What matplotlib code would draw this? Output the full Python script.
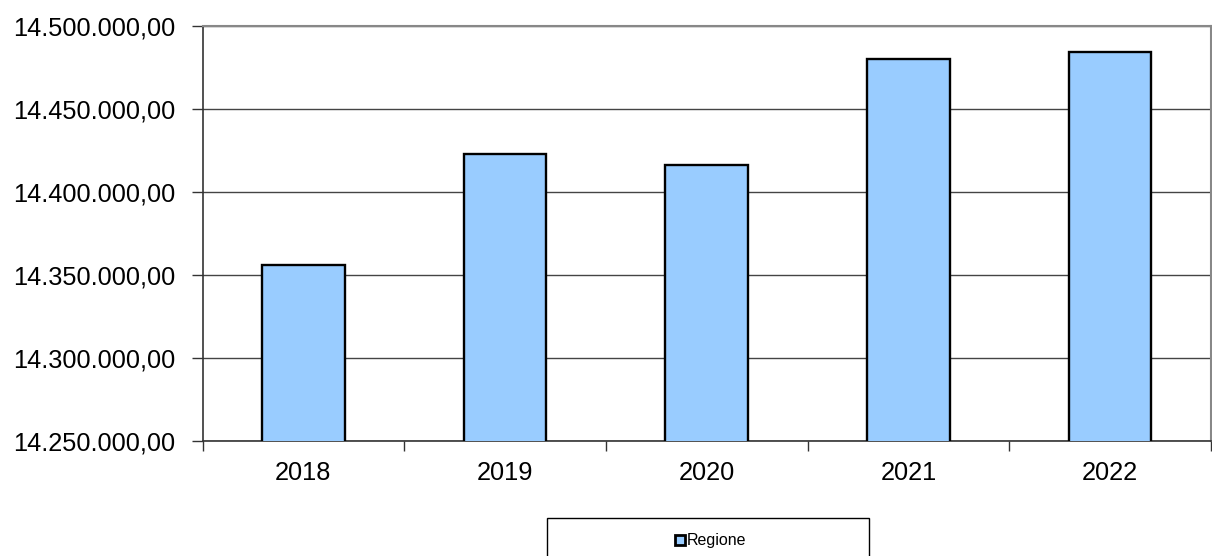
import matplotlib
matplotlib.use("Agg")
import matplotlib.pyplot as plt
from matplotlib.ticker import FuncFormatter, FixedLocator
from matplotlib.patches import Rectangle, Patch

years = ["2018", "2019", "2020", "2021", "2022"]
values = [14356000, 14422800, 14416300, 14480300, 14484500]
series_name = "Regione"
y_ticks = [14250000, 14300000, 14350000, 14400000, 14450000, 14500000]

plt.rcParams['font.family'] = ['Liberation Sans', 'DejaVu Sans']

W, H = 1212, 556
fig = plt.figure(figsize=(W / 100, H / 100), dpi=100)
ax = fig.add_axes([202.5 / W, 1 - 440.5 / H, (1211 - 202.5) / W, (440.5 - 26) / H])

x = list(range(len(years)))
ax.bar(x, values, width=0.41, color='#99CCFF', edgecolor='black', linewidth=1.7, zorder=3)

ax.set_xlim(-0.5, len(years) - 0.5)
ax.set_ylim(y_ticks[0], y_ticks[-1])
ax.set_yticks(y_ticks)
ax.yaxis.set_major_formatter(FuncFormatter(
    lambda v, p: f"{v:,.2f}".replace(",", "X").replace(".", ",").replace("X", ".")))
ax.grid(axis='y', color='#444444', linewidth=1.0, zorder=0)

ax.set_xticks(x)
ax.set_xticklabels(years)
ax.xaxis.set_minor_locator(FixedLocator([i + 0.5 for i in range(-1, len(years))]))
ax.tick_params(axis='x', which='major', length=0, pad=15, labelsize=18.3)
ax.tick_params(axis='x', which='minor', length=7, width=1.0, color='#333333', direction='out')
ax.tick_params(axis='y', length=8, width=1.0, color='#333333', pad=11.5, labelsize=18.3)

for side in ['left', 'bottom']:
    ax.spines[side].set_color('#333333')
    ax.spines[side].set_linewidth(1.2)
for side in ['top', 'right']:
    ax.spines[side].set_color('#888888')
    ax.spines[side].set_linewidth(1.5)

# legend box
box = Rectangle((547 / W, 1 - 570 / H), (869 - 547) / W, (570 - 518) / H,
                transform=fig.transFigure, facecolor='white', edgecolor='black',
                linewidth=1.0, clip_on=False)
fig.patches.append(box)
handle = Patch(facecolor='#99CCFF', edgecolor='black', linewidth=2.0, label=series_name)
fig.legend(handles=[handle], loc='center', bbox_to_anchor=(711 / W, 1 - 541 / H),
           frameon=False, fontsize=11.5, handlelength=0.6, handleheight=0.6,
           handletextpad=0.15, borderpad=0)

fig.savefig("out.png", dpi=100)
